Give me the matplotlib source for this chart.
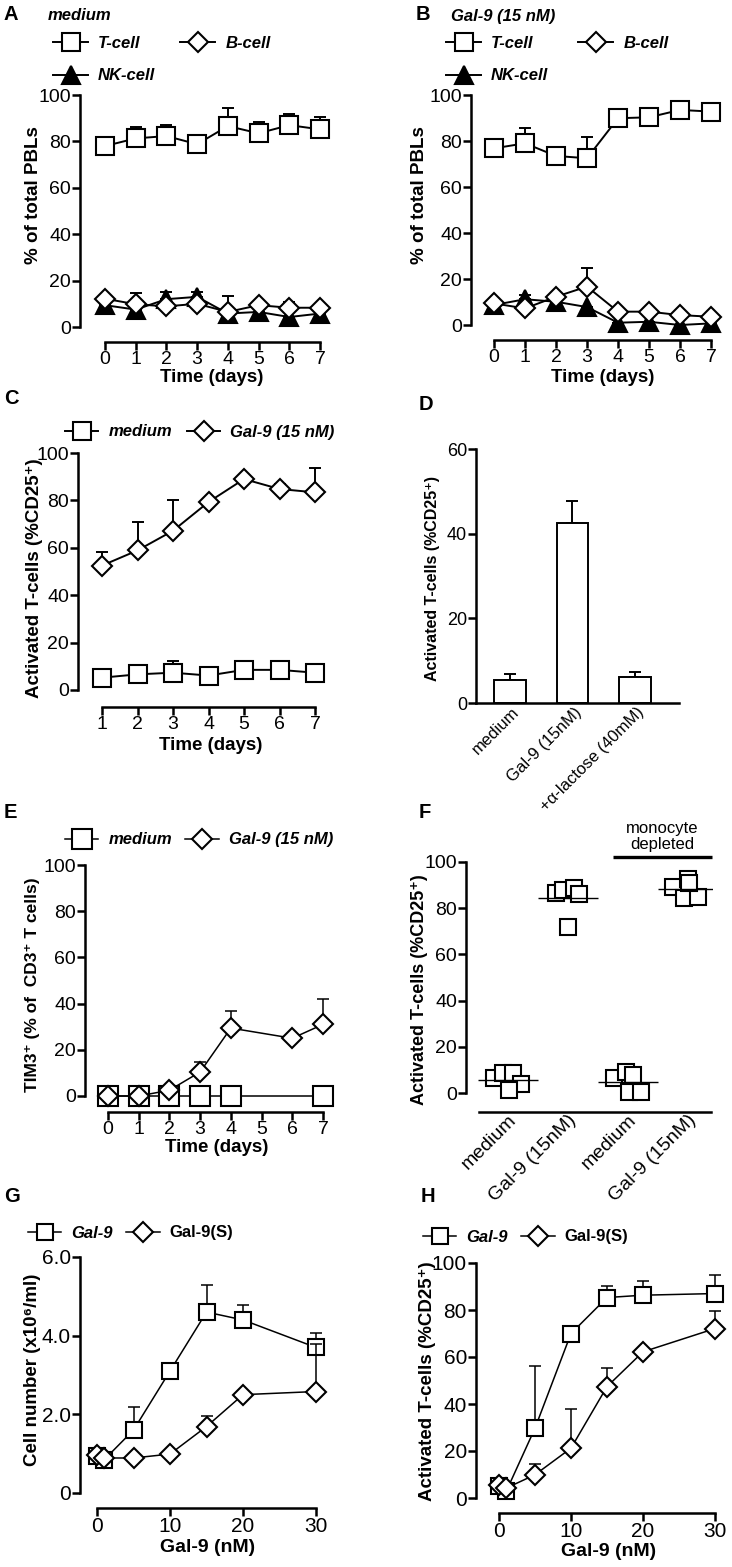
import numpy as np
import matplotlib
matplotlib.use('Agg')
import matplotlib.pyplot as plt
import matplotlib.transforms as mtransforms
from matplotlib.font_manager import FontProperties

plt.rcParams['font.family'] = ['Liberation Sans', 'DejaVu Sans']

# ---------------- data ----------------
days_AB = [0, 1, 2, 3, 4, 5, 6, 7]
A_tcell = [78, 81.3, 82.3, 78.8, 86.6, 83.5, 87, 85.2]
A_tcell_err = [0, 4.7, 4.7, 0, 7.6, 5.0, 4.8, 5.2]
A_bcell = [12.2, 9.8, 8.9, 10, 6.5, 9.4, 8.3, 8.3]
A_bcell_err = [0, 4.9, 6.2, 0, 6.7, 0, 2.5, 0]
A_nk = [9.4, 7.5, 12, 13, 5.8, 6.5, 4.3, 5.8]
A_nk_err = [0, 0, 0, 2, 0, 0, 0, 0]

B_tcell = [76.8, 79, 73.5, 72.5, 89.9, 90.3, 93.5, 92.8]
B_tcell_err = [0, 6.5, 3, 9.1, 0, 3.9, 3.3, 3.9]
B_bcell = [9.4, 7.2, 12.3, 16.7, 5.8, 5.8, 4.3, 3.6]
B_bcell_err = [0, 0, 0, 7.9, 0, 0, 0, 0]
B_nk = [8.7, 11.2, 10.1, 7.8, 1.0, 1.4, 0, 0.7]
B_nk_err = [0, 1.8, 0, 0, 0, 0, 0, 0]

days_C = [1, 2, 3, 4, 5, 6, 7]
C_medium = [5.2, 6.6, 7.3, 6.1, 8.5, 8.5, 7.3]
C_medium_err = [0, 0, 5.1, 0, 0, 0, 0]
C_gal9 = [52.5, 58.9, 67.2, 79.3, 89, 84.8, 83.4]
C_gal9_err = [5.7, 11.9, 12.8, 0, 0, 2.1, 10.1]

D_labels = ['medium', 'Gal-9 (15nM)', '+α-lactose (40mM)']
D_values = [5.5, 42.5, 6.1]
D_err = [1.35, 5.1, 1.2]

E_medium_days = [0, 1, 2, 3, 4, 7]
E_medium = [0, 0, 0, 0, 0, 0]
E_gal9_days = [0, 1, 2, 3, 4, 6, 7]
E_gal9 = [0, 0, 2.5, 10.4, 29.4, 25, 31]
E_gal9_err = [0, 0, 0, 4.3, 7.4, 0, 11]

F_labels = ['medium', 'Gal-9 (15nM)', 'medium', 'Gal-9 (15nM)']
F_groups = [
    [6.5, 8.7, 8.7, 3.9, 1.3],
    [86.6, 88.0, 88.7, 86.0, 72.0],
    [6.5, 9.1, 0.5, 0.5, 7.8],
    [89.2, 92.6, 84.4, 84.8, 91.0],
]
F_jitter = [
    [-0.23, -0.08, 0.08, 0.22, 0.02],
    [-0.20, -0.08, 0.10, 0.18, 0.0],
    [-0.23, -0.03, 0.02, 0.22, 0.08],
    [-0.25, 0.0, -0.07, 0.17, 0.02],
]

conc = [0, 1, 5, 10, 15, 20, 30]
G_gal9 = [0.95, 0.85, 1.6, 3.1, 4.6, 4.4, 3.7]
G_gal9_err = [0, 0, 0.58, 0, 0.68, 0.38, 0.38]
G_gal9S = [0.97, 0.89, 0.89, 0.99, 1.69, 2.5, 2.58]
G_gal9S_err = [0, 0, 0, 0, 0.28, 0, 1.2]

H_gal9 = [5, 2.8, 29.7, 70, 85.3, 86.3, 87]
H_gal9_err = [0, 0, 26.3, 0, 4.9, 6.1, 7.8]
H_gal9S = [5.7, 4.2, 9.9, 21.2, 47.4, 62.2, 72.1]
H_gal9S_err = [0, 0, 4.7, 16.8, 7.8, 0, 7.5]

# ---------------- layout helpers ----------------
W, H = 732, 1567
fig = plt.figure(figsize=(W / 100, H / 100), dpi=100)
fig.patch.set_facecolor('white')


def fx(x):
    return x / W


def fy(y):
    return 1 - y / H


def add_ax(l, t, r, b):
    return fig.add_axes([fx(l), fy(b), (r - l) / W, (b - t) / H])


SPW = 1.8
LABEL_FS = 13.5
LEG_FP = FontProperties(family=['Liberation Sans', 'DejaVu Sans'],
                        weight='bold', style='italic', size=12)


def style(ax, xoff_px=0, xbounds=None, ybounds=None, tick_fs=14, xticks=True):
    ax.spines['top'].set_visible(False)
    ax.spines['right'].set_visible(False)
    for s in ('left', 'bottom'):
        ax.spines[s].set_linewidth(SPW)
    if xoff_px:
        ax.spines['bottom'].set_position(('outward', xoff_px * 0.72))
    if xbounds is not None:
        ax.spines['bottom'].set_bounds(*xbounds)
    if ybounds is not None:
        ax.spines['left'].set_bounds(*ybounds)
    ax.tick_params(axis='both', direction='out', width=SPW, length=5.5,
                   labelsize=tick_fs, pad=1)
    if not xticks:
        ax.tick_params(axis='x', length=0)
    ax.set_facecolor('none')


def series(ax, x, y, err, marker, ms, label, lw=1.4, mew=1.5, z=3):
    x = np.asarray(x, float)
    y = np.asarray(y, float)
    if err is not None:
        e = np.asarray(err, float)
        ax.errorbar(x, y, yerr=[np.zeros_like(e), e], fmt='none', ecolor='black',
                    elinewidth=lw, capsize=4.3, capthick=lw, zorder=z - 0.5,
                    clip_on=False)
    ln, = ax.plot(x, y, marker=marker, ms=ms, mfc='white' if marker != '^' else 'black',
                  mec='black', mew=mew, color='black', lw=lw, label=label,
                  zorder=z, clip_on=False)
    return ln


def ylab(ax, text, x, y, fs=LABEL_FS):
    ax.set_ylabel(text, fontsize=fs, fontweight='bold')
    ax.yaxis.set_label_coords(fx(x), fy(y), transform=fig.transFigure)
    ax.yaxis.label.set_va('center')


def xlab(ax, text, x, y, fs=LABEL_FS):
    ax.set_xlabel(text, fontsize=fs, fontweight='bold')
    ax.xaxis.set_label_coords(fx(x), fy(y), transform=fig.transFigure)
    ax.xaxis.label.set_va('center')


def letter(s, x, y):
    fig.text(fx(x), fy(y), s, fontsize=14.5, fontweight='bold', ha='left', va='center')


def legend(handles, x, y, ncol, hl=2.1, cs=1.9, loc='center left', ls=0.75):
    leg = fig.legend(handles=handles, loc=loc, bbox_to_anchor=(fx(x), fy(y)),
                     bbox_transform=fig.transFigure, ncol=ncol, frameon=False,
                     prop=LEG_FP, handlelength=hl, handletextpad=0.6,
                     columnspacing=cs, borderpad=0, borderaxespad=0,
                     labelspacing=ls, markerscale=1.0)
    return leg


def shift_xticklabels(ax, dx_px, dy_px=0):
    off = mtransforms.ScaledTranslation(dx_px / 100, -dy_px / 100, fig.dpi_scale_trans)
    for lab in ax.get_xticklabels():
        lab.set_transform(lab.get_transform() + off)


# ---------------- Panel A ----------------
axA = add_ax(80, 95, 335, 327)
axA.set_xlim(-25 / 30.71, 7 + 15 / 30.71)
axA.set_ylim(0, 100)
style(axA, xoff_px=15, xbounds=(0, 7), ybounds=(0, 100))
axA.set_xticks(days_AB)
axA.set_yticks([0, 20, 40, 60, 80, 100])
hA_t = series(axA, days_AB, A_tcell, A_tcell_err, 's', 13.5, 'T-cell')
hA_nk = series(axA, days_AB, A_nk, A_nk_err, '^', 13, 'NK-cell', z=4)
hA_b = series(axA, days_AB, A_bcell, A_bcell_err, 'D', 10, 'B-cell', z=5)
ylab(axA, '% of total PBLs', 34, 195)
xlab(axA, 'Time (days)', 212, 378)
letter('A', 4, 15)
fig.text(fx(48), fy(16), 'medium', fontsize=12, fontweight='bold', fontstyle='italic',
         ha='left', va='center')
legend([hA_t, hA_nk, hA_b], 53, 36, 2, loc='upper left', cs=1.5, ls=1.05)

# ---------------- Panel B ----------------
axB = add_ax(471, 95, 725, 325)
axB.set_xlim(-23 / 31.0, 7 + 14 / 31.0)
axB.set_ylim(0, 100)
style(axB, xoff_px=15, xbounds=(0, 7), ybounds=(0, 100))
axB.set_xticks(days_AB)
axB.set_yticks([0, 20, 40, 60, 80, 100])
hB_t = series(axB, days_AB, B_tcell, B_tcell_err, 's', 13.5, 'T-cell')
hB_nk = series(axB, days_AB, B_nk, B_nk_err, '^', 13, 'NK-cell', z=4)
hB_b = series(axB, days_AB, B_bcell, B_bcell_err, 'D', 10, 'B-cell', z=5)
ylab(axB, '% of total PBLs', 420, 195)
xlab(axB, 'Time (days)', 603, 377)
letter('B', 416, 15)
fig.text(fx(451), fy(16), 'Gal-9 (15 nM)', fontsize=12, fontweight='bold', fontstyle='italic',
         ha='left', va='center')
legend([hB_t, hB_nk, hB_b], 446, 36, 2, loc='upper left', cs=1.8, ls=1.05)

# ---------------- Panel C ----------------
axC = add_ax(78, 453, 335, 690)
axC.set_xlim(1 - 24 / 35.5, 7 + 20 / 35.5)
axC.set_ylim(0, 100)
style(axC, xoff_px=17, xbounds=(1, 7), ybounds=(0, 100))
axC.set_xticks(days_C)
axC.set_yticks([0, 20, 40, 60, 80, 100])
hC_m = series(axC, days_C, C_medium, C_medium_err, 's', 13, 'medium')
hC_g = series(axC, days_C, C_gal9, C_gal9_err, 'D', 9.7, 'Gal-9 (15 nM)')
ylab(axC, 'Activated T-cells (%CD25⁺)', 35, 578)
xlab(axC, 'Time (days)', 211, 746)
letter('C', 4, 399)
legend([hC_m, hC_g], 65, 432, 2, hl=2.0, cs=0.9)

# ---------------- Panel D ----------------
axD = add_ax(476, 449, 679, 703)
axD.set_xlim(-0.54, 2.7)
axD.set_ylim(0, 60)
style(axD, tick_fs=13, xticks=False)
xD = np.arange(len(D_values))
axD.bar(xD, D_values, width=0.51, color='white', edgecolor='black', linewidth=1.4, zorder=3)
axD.errorbar(xD, D_values, yerr=[np.zeros(len(D_err)), D_err], fmt='none', ecolor='black',
             elinewidth=1.4, capsize=4.3, capthick=1.4, zorder=2)
axD.set_yticks([0, 20, 40, 60])
axD.set_xticks(xD)
axD.set_xticklabels(D_labels, rotation=45, ha='right', va='center',
                    rotation_mode='anchor', fontsize=12)
axD.tick_params(axis='x', pad=5)
shift_xticklabels(axD, 7)
ylab(axD, 'Activated T-cells (%CD25⁺)', 432, 578, fs=11.5)
letter('D', 419, 405)

# ---------------- Panel E ----------------
axE = add_ax(85, 865, 335, 1096)
axE.set_xlim(-23 / 30.7, 7 + 12 / 30.7)
axE.set_ylim(0, 100)
style(axE, xoff_px=16, xbounds=(0, 7), ybounds=(0, 100))
axE.set_xticks(days_AB)
axE.set_yticks([0, 20, 40, 60, 80, 100])
hE_m = series(axE, E_medium_days, E_medium, None, 's', 14, 'medium', lw=1.1)
hE_g = series(axE, E_gal9_days, E_gal9, E_gal9_err, 'D', 10, 'Gal-9 (15 nM)', lw=1.1, z=4)
ylab(axE, 'TIM3⁺ (% of  CD3⁺ T cells)', 33, 985, fs=12.5)
xlab(axE, 'Time (days)', 217, 1148)
letter('E', 4, 812)
legend([hE_m, hE_g], 65, 840, 2, hl=2.0, cs=0.8)

# ---------------- Panel F ----------------
axF = add_ax(466, 862, 713, 1093)
axF.set_xlim(-0.7, 3.42)
axF.set_ylim(0, 100)
style(axF, xoff_px=19, xbounds=(-0.48, 3.38), ybounds=(0, 100), xticks=False)
for i, (vals, jit) in enumerate(zip(F_groups, F_jitter)):
    xs = i + np.asarray(jit)
    axF.plot(xs, vals, linestyle='none', marker='s', ms=11, mfc='white', mec='black',
             mew=1.5, zorder=3, clip_on=False)
    axF.hlines(np.mean(vals), i - 0.5, i + 0.5, color='black', lw=1.0, zorder=4)
axF.set_xticks(range(len(F_labels)))
axF.set_xticklabels(F_labels, rotation=45, ha='right', va='center',
                    rotation_mode='anchor', fontsize=14)
axF.tick_params(axis='x', pad=4)
shift_xticklabels(axF, 6)
axF.set_yticks([0, 20, 40, 60, 80, 100])
axF.plot([2 - 0.25, 3 + 0.4], [102, 102], color='black', lw=2.4, clip_on=False,
         solid_capstyle='butt')
axF.text(2.57, 104.5, 'monocyte\ndepleted', ha='center', va='bottom', fontsize=12,
         linespacing=1.05)
ylab(axF, 'Activated T-cells (%CD25⁺)', 420, 990, fs=13)
letter('F', 419, 812)

# ---------------- Panel G ----------------
axG = add_ax(80, 1257, 332, 1493)
axG.set_xlim(-17 / 7.3, 30 + 16 / 7.3)
axG.set_ylim(0, 6)
style(axG, xoff_px=15, xbounds=(0, 30), ybounds=(0, 6), tick_fs=15)
axG.set_xticks([0, 10, 20, 30])
axG.set_yticks([0, 2, 4, 6])
axG.set_yticklabels(['0', '2.0', '4.0', '6.0'])
hG_g = series(axG, conc, G_gal9, G_gal9_err, 's', 12, 'Gal-9', lw=1.1)
hG_s = series(axG, conc, G_gal9S, G_gal9S_err, 'D', 10, 'Gal-9(S)', lw=1.1, z=4)
ylab(axG, 'Cell number (x10⁶/ml)', 33, 1370)
xlab(axG, 'Gal-9 (nM)', 208, 1548, fs=14)
letter('G', 4, 1197)
legG = legend([hG_g, hG_s], 28, 1233, 2, hl=2.0, cs=0.8)
legG.get_texts()[1].set_fontstyle('normal')

# ---------------- Panel H ----------------
axH = add_ax(476, 1263, 725, 1498)
axH.set_xlim(-23 / 7.2, 30 + 10 / 7.2)
axH.set_ylim(0, 100)
style(axH, xoff_px=15, xbounds=(0, 30), ybounds=(0, 100), tick_fs=15)
axH.set_xticks([0, 10, 20, 30])
axH.set_yticks([0, 20, 40, 60, 80, 100])
hH_g = series(axH, conc, H_gal9, H_gal9_err, 's', 11.5, 'Gal-9', lw=1.1)
hH_s = series(axH, conc, H_gal9S, H_gal9S_err, 'D', 10, 'Gal-9(S)', lw=1.1, z=4)
ylab(axH, 'Activated T-cells (%CD25⁺)', 427, 1381)
xlab(axH, 'Gal-9 (nM)', 609, 1551, fs=14)
letter('H', 421, 1197)
legH = legend([hH_g, hH_s], 423, 1237, 2, hl=2.0, cs=0.8)
legH.get_texts()[1].set_fontstyle('normal')

fig.savefig('out.png', dpi=100, facecolor='white')
